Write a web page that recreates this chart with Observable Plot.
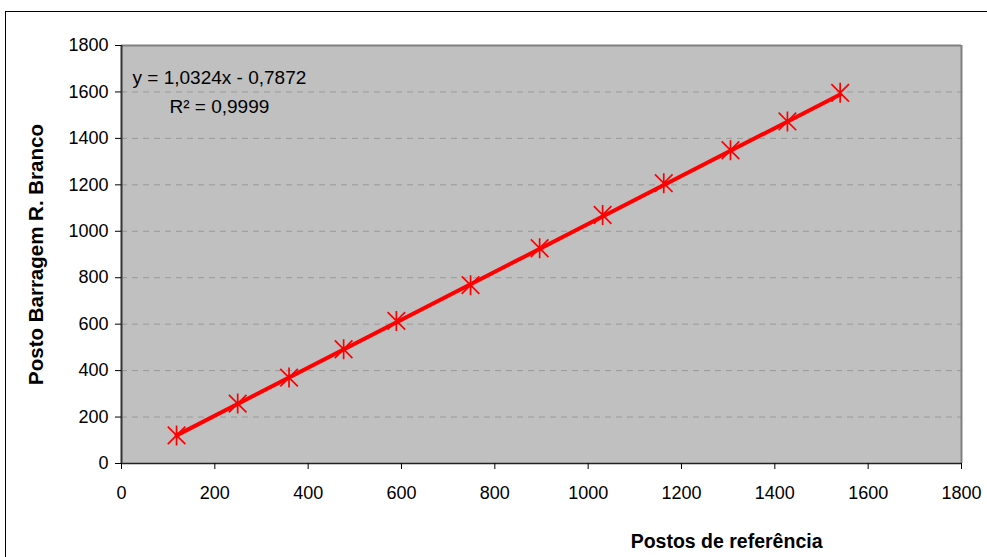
<!DOCTYPE html>
<html>
<head>
<meta charset="utf-8">
<script src="https://cdn.jsdelivr.net/npm/d3@7"></script>
<script src="https://cdn.jsdelivr.net/npm/@observablehq/plot@0.6"></script>
<style>
  html, body { margin: 0; padding: 0; background: #fff; overflow: hidden; }
  #wrap { position: relative; width: 987px; height: 557px; overflow: hidden; }
  #border { position: absolute; left: 5px; top: 11px; width: 1100px; height: 700px; border: 1px solid #000; box-sizing: border-box; }
  #chart { position: absolute; left: 0; top: 0; }
</style>
</head>
<body>
<div id="wrap">
  <div id="border"></div>
  <div id="chart"></div>
</div>
<script>
// Postos de referência (x) against Posto Barragem R. Branco (y)
const refX   = [118, 249, 359, 476, 589, 748, 896, 1031, 1162, 1305, 1427, 1540];
const brancoY = [121, 258, 370, 492, 614, 768, 927, 1070, 1207, 1349, 1473, 1596];

// Linear trend fitted to the series
const slope = 1.0324;
const intercept = -0.7872;
const r2 = 0.9999;

const axisTicks = [0, 200, 400, 600, 800, 1000, 1200, 1400, 1600, 1800];
const gridTicks = [200, 400, 600, 800, 1000, 1200, 1400, 1600];

const xTitle = "Postos de referência";
const yTitle = "Posto Barragem R. Branco";

const fmtDec = (v, n) => v.toFixed(n).replace(".", ",");
const eqText = `y = ${fmtDec(slope, 4)}x ${intercept < 0 ? "-" : "+"} ${fmtDec(Math.abs(intercept), 4)}`;
const r2Text = `R² = ${fmtDec(r2, 4)}`;

const points = refX.map((x, i) => ({x, y: brancoY[i]}));
const xMin = d3.min(refX), xMax = d3.max(refX);
const trend = [xMin, xMax].map(x => ({x, y: slope * x + intercept}));

// Star marker: vertical bar crossed by an X
const star = {
  draw(ctx, size) {
    const s = Math.sqrt(size / Math.PI);
    const d = s * 0.88;
    ctx.moveTo(0, -s); ctx.lineTo(0, s);
    ctx.moveTo(-d, -d); ctx.lineTo(d, d);
    ctx.moveTo(-d, d); ctx.lineTo(d, -d);
  }
};

const font = "'Liberation Sans', Arial, Helvetica, sans-serif";

const chart = Plot.plot({
  width: 987,
  height: 557,
  marginLeft: 121,
  marginRight: 26,
  marginTop: 45,
  marginBottom: 94,
  style: {fontFamily: font, fontSize: "18px", background: "transparent", color: "#000", overflow: "visible"},
  x: {domain: [0, 1800], ticks: axisTicks, label: null},
  y: {domain: [0, 1800], ticks: axisTicks, label: null},
  marks: [
    Plot.frame({fill: "#C0C0C0", stroke: null}),
    Plot.gridY(gridTicks, {stroke: "#999", strokeOpacity: 1, strokeDasharray: "6,5", strokeWidth: 1}),
    Plot.ruleY([1800], {stroke: "#808080", strokeWidth: 2}),
    Plot.ruleX([1800], {stroke: "#808080", strokeWidth: 2}),
    Plot.ruleX([0], {stroke: "#333", strokeWidth: 2}),
    Plot.ruleY([0], {stroke: "#222", strokeWidth: 1.5}),
    Plot.axisY({ticks: axisTicks, tickSize: 6, tickPadding: 7, tickFormat: d => String(d), label: null, stroke: "#000", fontSize: 18}),
    Plot.axisX({ticks: axisTicks, tickSize: 6, tickPadding: 17, tickFormat: d => String(d), label: null, stroke: "#000", fontSize: 18}),
    Plot.dot(points, {x: "x", y: "y", symbol: star, r: 10, fill: "none", stroke: "#FF0000", strokeWidth: 1.7}),
    Plot.line(trend, {x: "x", y: "y", stroke: "#FF0000", strokeWidth: 4}),
    Plot.text([eqText], {frameAnchor: "top-left", textAnchor: "start", lineAnchor: "bottom", dx: 11, dy: 38, fontSize: 19, fill: "#000"}),
    Plot.text([r2Text], {frameAnchor: "top-left", textAnchor: "start", lineAnchor: "bottom", dx: 48, dy: 67, fontSize: 19, fill: "#000"}),
    Plot.text([yTitle], {frameAnchor: "left", textAnchor: "middle", lineAnchor: "middle", rotate: -90, dx: -85, fontSize: 20.5, fontWeight: "bold", fill: "#000"}),
    Plot.text([xTitle], {frameAnchor: "bottom-right", textAnchor: "end", lineAnchor: "middle", dx: -139, dy: 78, fontSize: 19.5, fontWeight: "bold", fill: "#000"})
  ]
});

document.getElementById("chart").appendChild(chart);
</script>
</body>
</html>
